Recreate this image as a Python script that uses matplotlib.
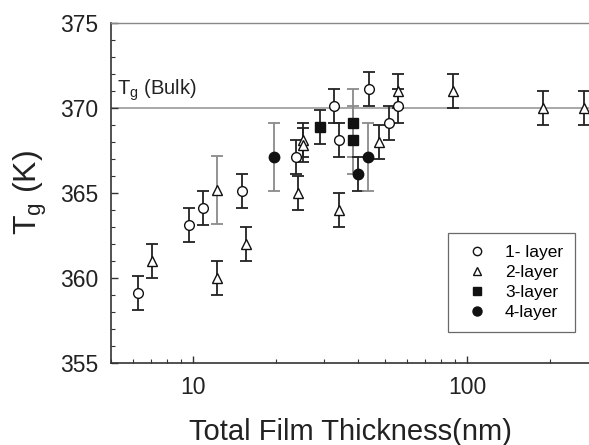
import numpy as np
import matplotlib
matplotlib.use('Agg')
import matplotlib.pyplot as plt
from matplotlib.lines import Line2D
from matplotlib.ticker import MultipleLocator, LogLocator, NullFormatter, FixedLocator, FixedFormatter

plt.rcParams['font.family'] = ['Liberation Sans', 'DejaVu Sans']
plt.rcParams['mathtext.fontset'] = 'custom'
plt.rcParams['mathtext.rm'] = 'Liberation Sans'

#data (thickness nm, Tg K, error K)
x1 = [6.25, 9.6, 10.8, 15.1, 23.6, 32.7, 34.1, 43.9, 51.9, 56.0]
y1 = [359.1, 363.1, 364.1, 365.1, 367.1, 370.1, 368.1, 371.1, 369.1, 370.1]
e1 = [1, 1, 1, 1, 1, 1, 1, 1, 1, 1]

x2 = [7.08, 12.2, 12.2, 15.6, 24.0, 25.2, 25.2, 34.1, 47.7, 56.0, 88.9, 189, 267]
y2 = [361.0, 365.2, 360.0, 362.0, 365.0, 368.1, 367.8, 364.0, 368.0, 371.0, 371.0, 370.0, 370.0]
e2 = [1, 2, 1, 1, 1, 1, 1, 1, 1, 1, 1, 1, 1]

x3 = [29.0, 38.3, 38.3]
y3 = [368.9, 369.1, 368.1]
e3 = [1, 2, 2]

x4 = [19.6, 39.9, 43.2]
y4 = [367.1, 366.1, 367.1]
e4 = [2, 1, 2]

tg_bulk = 370
labels = ['1- layer', '2-layer', '3-layer', '4-layer']

fig = plt.figure(figsize=(5.89, 4.45), dpi=100)
ax = fig.add_axes([111/589, 1-363/445, 478/589, 340/445])

series = [(x1, y1, e1, 'o', 'white', 7),
          (x2, y2, e2, '^', 'white', 7),
          (x3, y3, e3, 's', '#111111', 6.5),
          (x4, y4, e4, 'o', '#111111', 7.5)]

ax.axhline(tg_bulk, color='#999999', lw=1.2, zorder=1)

for xs, ys, es, mk, fc, ms in series:
    for xv, yv, ev in zip(xs, ys, es):
        ec = '#8a8a8a' if ev >= 2 else '#222222'
        ax.errorbar(xv, yv, yerr=ev, fmt='none', ecolor=ec, elinewidth=1.3,
                    capsize=4, capthick=1.3, zorder=2)
    ax.plot(xs, ys, ls='none', marker=mk, ms=ms, mfc=fc, mec='#111111',
            mew=1.0, zorder=3)

ax.set_xscale('log')
ax.set_xlim(5, 278)
ax.set_ylim(355, 375)
ax.xaxis.set_major_locator(FixedLocator([10, 100]))
ax.xaxis.set_major_formatter(FixedFormatter(['10', '100']))
ax.xaxis.set_minor_locator(LogLocator(base=10, subs=np.arange(2, 10)))
ax.xaxis.set_minor_formatter(NullFormatter())
ax.yaxis.set_major_locator(MultipleLocator(5))
ax.yaxis.set_minor_locator(MultipleLocator(1))

ax.tick_params(which='both', direction='in', top=False, right=False, colors='#333333')
ax.tick_params(which='major', length=5, width=1, labelsize=16.5, pad=9, labelcolor='#222222')
ax.tick_params(which='minor', length=3, width=0.8)

ax.spines['right'].set_visible(False)
ax.spines['top'].set_color('#888888')
ax.spines['top'].set_linewidth(1)
for s in ['left', 'bottom']:
    ax.spines[s].set_color('#333333')
    ax.spines[s].set_linewidth(1.2)

ax.text(0.0126, 0.788, r'T$_\mathregular{g}$ (Bulk)', transform=ax.transAxes,
        fontsize=14.5, va='baseline', ha='left', color='#222222')

ax.set_xlabel('Total Film Thickness(nm)', fontsize=21, labelpad=14, color='#222222')
ax.set_ylabel(r'T$_\mathregular{g}$ (K)', fontsize=23, labelpad=8, color='#222222')

handles = [Line2D([], [], ls='none', marker='o', ms=6, mfc='white', mec='#111111'),
           Line2D([], [], ls='none', marker='^', ms=6, mfc='white', mec='#111111'),
           Line2D([], [], ls='none', marker='s', ms=5.5, mfc='#111111', mec='#111111'),
           Line2D([], [], ls='none', marker='o', ms=6.5, mfc='#111111', mec='#111111')]
leg = ax.legend(handles, labels, loc='lower right', bbox_to_anchor=(0.971, 0.091),
                fontsize=12.5, frameon=True, fancybox=False, edgecolor='#444444',
                borderpad=0.7, handlelength=2.0, handletextpad=0.6,
                labelspacing=0.28, borderaxespad=0)
leg.get_frame().set_linewidth(0.9)

fig.savefig('out.png', dpi=100)
